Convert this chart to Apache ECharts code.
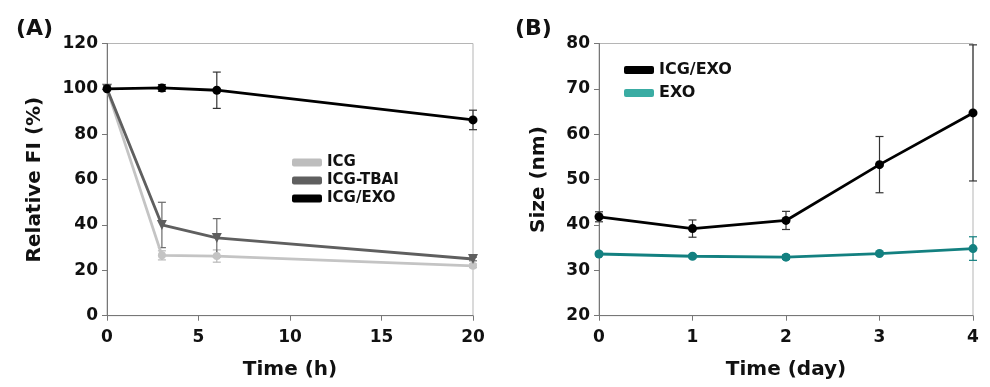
<!DOCTYPE html>
<html>
<head>
<meta charset="utf-8">
<script src="https://cdn.jsdelivr.net/npm/echarts@6/dist/echarts.min.js"></script>
<style>
  html, body { margin: 0; padding: 0; background: #fff; }
  #chart { width: 990px; height: 387px; }
</style>
</head>
<body>
<div id="chart"></div>
<script>
// panel A: relative fluorescence over time (h)
const timeA = [0, 3, 6, 20];
const icg = [100, 26.6, 26.3, 22.0];
const icgErr = [0, 2.0, 2.7, 0.8];
const icgTbai = [100, 40.0, 34.3, 25.0];
const icgTbaiErr = [0, 10.0, 8.5, 0.8];
const icgExoA = [100, 100.4, 99.4, 86.3];
const icgExoAErr = [0, 1.5, 8.0, 4.3];

// panel B: size over time (day)
const dayB = [0, 1, 2, 3, 4];
const icgExoB = [41.8, 39.2, 41.0, 53.3, 64.7];
const icgExoBErr = [1.1, 1.9, 2.0, 6.2, 15.0];
const exoB = [33.6, 33.1, 32.9, 33.7, 34.8];
const exoBErr = [0.4, 0.4, 0.5, 0.3, 2.6];

const FONT = 'DejaVu Sans';
const pairs = (xs, ys) => xs.map((x, i) => [x, ys[i]]);
const errData = (xs, ys, es) => xs.map((x, i) => [x, ys[i] - es[i], ys[i] + es[i]]);

function errorSeries(idx, xs, ys, es, color) {
  return {
    type: 'custom',
    xAxisIndex: idx,
    yAxisIndex: idx,
    data: errData(xs, ys, es),
    z: 1,
    silent: true,
    renderItem: function (params, api) {
      const top = api.coord([api.value(0), api.value(2)]);
      const bot = api.coord([api.value(0), api.value(1)]);
      const w = 4;
      const style = { stroke: color, lineWidth: 1.2 };
      return {
        type: 'group',
        children: [
          { type: 'line', shape: { x1: top[0], y1: top[1], x2: bot[0], y2: bot[1] }, style: style },
          { type: 'line', shape: { x1: top[0] - w, y1: top[1], x2: top[0] + w, y2: top[1] }, style: style },
          { type: 'line', shape: { x1: bot[0] - w, y1: bot[1], x2: bot[0] + w, y2: bot[1] }, style: style }
        ]
      };
    }
  };
}

function lineSeries(idx, name, xs, ys, color, symbol, size, rotate) {
  return {
    type: 'line',
    name: name,
    xAxisIndex: idx,
    yAxisIndex: idx,
    data: pairs(xs, ys),
    symbol: symbol,
    symbolSize: size,
    symbolRotate: rotate || 0,
    showSymbol: true,
    z: 3,
    lineStyle: { color: color, width: 2.8 },
    itemStyle: { color: color },
    emphasis: { disabled: true }
  };
}

const axisLabel = { fontFamily: FONT, fontWeight: 'bold', fontSize: 17, color: '#111' };
const axisLine = { lineStyle: { color: '#777', width: 1 } };
const axisTick = { length: 5, lineStyle: { color: '#777' } };
const nameStyle = { fontFamily: FONT, fontWeight: 'bold', fontSize: 20, color: '#111' };

const chart = echarts.init(document.getElementById('chart'));
chart.setOption({
  animation: false,
  textStyle: { fontFamily: FONT },
  title: [
    { text: '(A)', left: 11, top: 13, textStyle: { fontFamily: FONT, fontWeight: 'bold', fontSize: 22, color: '#111' } },
    { text: '(B)', left: 510, top: 13, textStyle: { fontFamily: FONT, fontWeight: 'bold', fontSize: 22, color: '#111' } }
  ],
  legend: [
    {
      orient: 'vertical', left: 287, top: 150, itemWidth: 30, itemHeight: 8, itemGap: 3,
      icon: 'roundRect',
      textStyle: { fontFamily: FONT, fontWeight: 'bold', fontSize: 15, color: '#111' },
      data: [
        { name: 'ICG', itemStyle: { color: '#bdbdbd' } },
        { name: 'ICG-TBAI', itemStyle: { color: '#5f5f5f' } },
        { name: 'ICG/EXO', itemStyle: { color: '#000' } }
      ]
    },
    {
      orient: 'vertical', left: 619, top: 57, itemWidth: 30, itemHeight: 8, itemGap: 7,
      icon: 'roundRect',
      textStyle: { fontFamily: FONT, fontWeight: 'bold', fontSize: 16, color: '#111' },
      data: [
        { name: 'ICG/EXO ', itemStyle: { color: '#000' } },
        { name: 'EXO', itemStyle: { color: '#3aaca3' } }
      ]
    }
  ],
  grid: [
    { left: 107, right: 517, top: 43.5, bottom: 71.3, show: true, borderColor: '#b5b5b5', borderWidth: 1 },
    { left: 599, right: 17, top: 43.5, bottom: 71.3, show: true, borderColor: '#b5b5b5', borderWidth: 1 }
  ],
  xAxis: [
    {
      gridIndex: 0, type: 'value', min: 0, max: 20, interval: 5,
      name: 'Time (h)', nameLocation: 'middle', nameGap: 44, nameTextStyle: nameStyle,
      axisLine: axisLine, axisTick: axisTick, splitLine: { show: false },
      axisLabel: Object.assign({ margin: 13 }, axisLabel)
    },
    {
      gridIndex: 1, type: 'value', min: 0, max: 4, interval: 1,
      name: 'Time (day)', nameLocation: 'middle', nameGap: 44, nameTextStyle: nameStyle,
      axisLine: axisLine, axisTick: axisTick, splitLine: { show: false },
      axisLabel: Object.assign({ margin: 13 }, axisLabel)
    }
  ],
  yAxis: [
    {
      gridIndex: 0, type: 'value', min: 0, max: 120, interval: 20,
      name: 'Relative FI (%)', nameLocation: 'middle', nameGap: 62, nameTextStyle: nameStyle,
      axisLine: Object.assign({ show: true }, axisLine), axisTick: Object.assign({ show: true }, axisTick),
      splitLine: { show: false },
      axisLabel: Object.assign({ margin: 9 }, axisLabel)
    },
    {
      gridIndex: 1, type: 'value', min: 20, max: 80, interval: 10,
      name: 'Size (nm)', nameLocation: 'middle', nameGap: 50, nameTextStyle: nameStyle,
      axisLine: Object.assign({ show: true }, axisLine), axisTick: Object.assign({ show: true }, axisTick),
      splitLine: { show: false },
      axisLabel: Object.assign({ margin: 9 }, axisLabel)
    }
  ],
  series: [
    errorSeries(0, timeA, icg, icgErr, '#b8b8b8'),
    errorSeries(0, timeA, icgTbai, icgTbaiErr, '#6a6a6a'),
    errorSeries(0, timeA, icgExoA, icgExoAErr, '#333'),
    lineSeries(0, 'ICG', timeA, icg, '#c4c4c4', 'circle', 8),
    lineSeries(0, 'ICG-TBAI', timeA, icgTbai, '#5f5f5f', 'triangle', 10, 180),
    lineSeries(0, 'ICG/EXO', timeA, icgExoA, '#000', 'circle', 9),
    errorSeries(1, dayB, icgExoB, icgExoBErr, '#333'),
    errorSeries(1, dayB, exoB, exoBErr, '#138080'),
    lineSeries(1, 'ICG/EXO ', dayB, icgExoB, '#000', 'circle', 9),
    lineSeries(1, 'EXO', dayB, exoB, '#138080', 'circle', 9)
  ]
});
</script>
</body>
</html>
